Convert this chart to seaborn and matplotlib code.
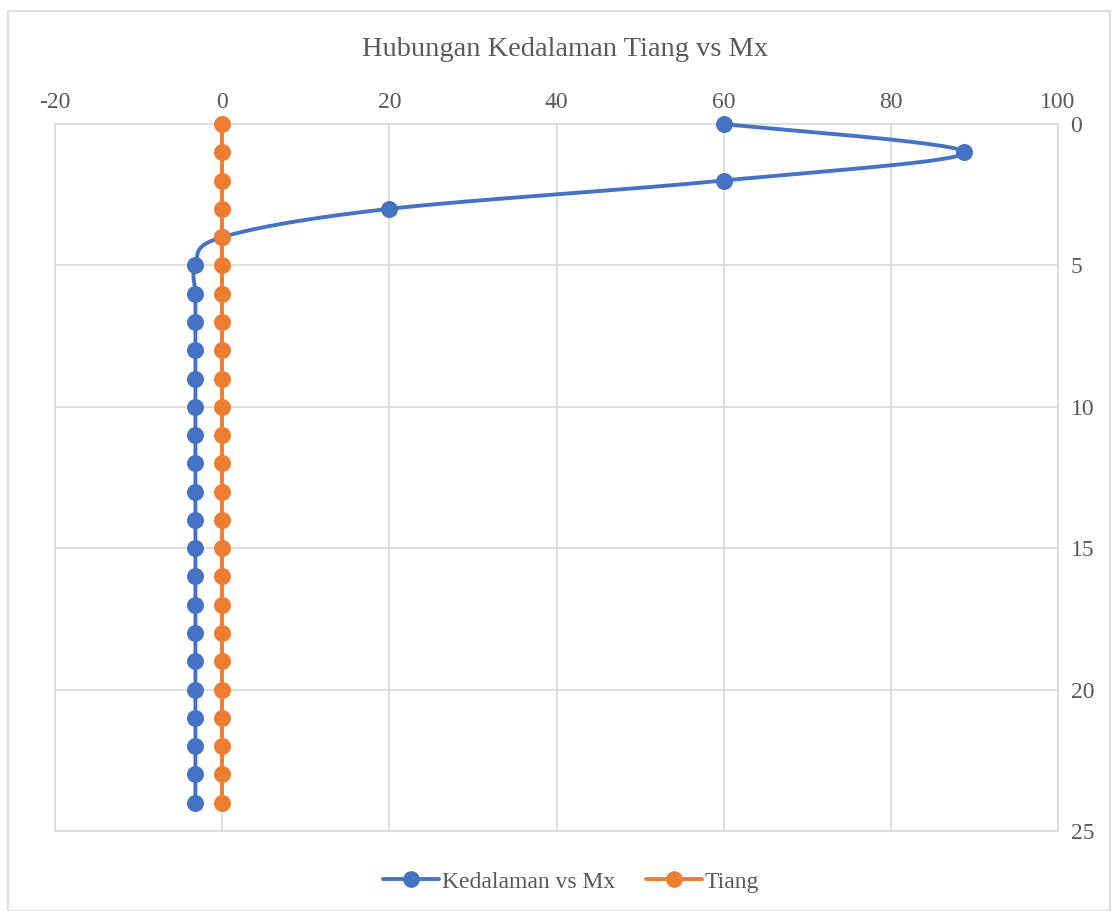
import numpy as np
import pandas as pd
import matplotlib
matplotlib.use("Agg")
import matplotlib.pyplot as plt
import seaborn as sns

BLUE = "#4472C4"
ORANGE = "#ED7D31"
TEXT_COL = "#595959"
GRID = "#D9D9D9"

# data
depth = list(range(0, 25))
mx = [60.0, 88.8, 60.0, 20.0, 0.0] + [-3.2] * 20
tiang = [0.0] * 25

sns.set_theme(style="white")
plt.rcParams["font.family"] = ["Liberation Serif", "DejaVu Serif"]
plt.rcParams["axes.unicode_minus"] = False


def smooth_path(xs, ys, sx, sy, n=30):
    # Excel-style smoothed line (Bezier, tension 1/6), in screen-scaled units
    p = np.column_stack([np.asarray(xs) * sx, np.asarray(ys) * sy])
    out = []
    for i in range(len(p) - 1):
        p0 = p[i - 1] if i > 0 else p[i]
        p1, p2 = p[i], p[i + 1]
        p3 = p[i + 2] if i + 2 < len(p) else p[i + 1]
        c1 = p1 + (p2 - p0) / 6
        c2 = p2 - (p3 - p1) / 6
        t = np.linspace(0, 1, n)[:, None]
        seg = ((1 - t) ** 3) * p1 + 3 * ((1 - t) ** 2) * t * c1 + 3 * (1 - t) * t ** 2 * c2 + t ** 3 * p2
        out.append(seg if i == 0 else seg[1:])
    out = np.vstack(out)
    return out[:, 0] / sx, out[:, 1] / sy


df = pd.DataFrame({"depth": depth, "mx": mx, "tiang": tiang})

fig = plt.figure(figsize=(11.13, 9.11), dpi=100)
ax = fig.add_axes([0.0494, 0.0878, 0.9012, 0.7761])

# pixels per unit on each axis, for the smoothing
sx, sy = 1003 / 120, 707 / 25
cx, cy = smooth_path(df["mx"], df["depth"], sx, sy)
ax.plot(cx, cy, color=BLUE, linewidth=2.8, solid_capstyle="round", zorder=3, clip_on=False)
sns.scatterplot(data=df, x="mx", y="depth", color=BLUE, s=150, edgecolor=BLUE,
                linewidth=0, ax=ax, zorder=4, clip_on=False)
ax.plot(df["tiang"], df["depth"], color=ORANGE, linewidth=2.8, zorder=5, clip_on=False)
sns.scatterplot(data=df, x="tiang", y="depth", color=ORANGE, s=150, edgecolor=ORANGE,
                linewidth=0, ax=ax, zorder=6, clip_on=False)

ax.set_xlim(-20, 100)
ax.set_ylim(25, 0)
ax.set_xticks(range(-20, 101, 20))
ax.set_yticks(range(0, 26, 5))
ax.xaxis.tick_top()
ax.yaxis.tick_right()
ax.tick_params(length=0, labelsize=17, colors=TEXT_COL, pad=8)
ax.tick_params(axis="y", pad=9)
ax.set_xlabel("")
ax.set_ylabel("")
ax.grid(True, color=GRID, linewidth=1.2)
for spine in ax.spines.values():
    spine.set_edgecolor(GRID)
    spine.set_linewidth(1.2)

fig.text(0.508, 0.946, "Hubungan Kedalaman Tiang vs Mx", ha="center", va="center",
         fontsize=20.5, color=TEXT_COL)

handles = [
    plt.Line2D([], [], color=BLUE, linewidth=2.8, marker="o", markersize=11),
    plt.Line2D([], [], color=ORANGE, linewidth=2.8, marker="o", markersize=11),
]
fig.legend(handles, ["Kedalaman vs Mx", "Tiang"], loc="center", bbox_to_anchor=(0.513, 0.032),
           ncol=2, frameon=False, fontsize=17, labelcolor=TEXT_COL, handlelength=2.4,
           handletextpad=0.1, columnspacing=1.3)

fig.patches.append(plt.Rectangle((0.007, 0.0), 0.99, 0.988, transform=fig.transFigure,
                                 fill=False, edgecolor=GRID, linewidth=1.2))

fig.savefig("out.png", dpi=100, facecolor="white")
plt.close()
